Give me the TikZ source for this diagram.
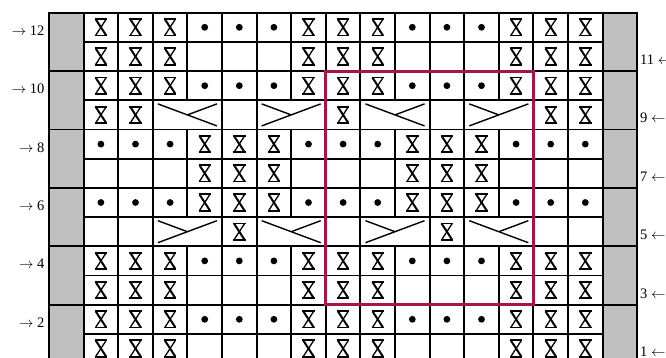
\documentclass[tikz,border=0pt]{standalone}
\usepackage{fontspec}
\setmainfont{Liberation Serif}
\definecolor{chartred}{RGB}{168,20,72}
\definecolor{chartgray}{RGB}{192,192,192}
\newcommand\symX[2]{\begin{scope}[shift={({49+34.6*#1+17.3},{12.7+29.2*#2+14.6})}]
  \draw[line width=1.7pt] (-6.2,-8.2)--(6.2,-8.2);
  \draw[line width=1.7pt] (-6.2,8.2)--(6.2,8.2);
  \draw[line width=2pt] (-5.2,-8)--(5.2,8);
  \draw[line width=1.3pt] (5.2,-8)--(-5.2,8);
\end{scope}}
\newcommand\symD[2]{\fill ({49+34.6*#1+17.3},{12.7+29.2*#2+14.6}) circle (3.4);}
\newcommand\symE[2]{}
\newcommand\symN[2]{}
\newcommand\symL[2]{\begin{scope}[shift={({49+34.6*#1+34.6},{12.7+29.2*#2+14.6})}]
  \draw[cable] (-29.5,-11)--(29.5,11);
  \draw[cable] (29.5,-11)--(0,0);
\end{scope}}
\newcommand\symR[2]{\begin{scope}[shift={({49+34.6*#1+34.6},{12.7+29.2*#2+14.6})}]
  \draw[cable] (-29.5,11)--(29.5,-11);
  \draw[cable] (-29.5,-11)--(0,0);
\end{scope}}
\begin{document}
\begin{tikzpicture}[x=1pt,y=-1pt,
  gridline/.style={line width=1.9pt,line cap=rect},
  cable/.style={line width=1.4pt},
  rowlabel/.style={inner sep=0pt,font=\fontsize{14.5}{16}\selectfont}]
\path[use as bounding box,clip] (0,0) rectangle (666,358);
\fill[white] (0,0) rectangle (666,358);
% gray side columns
\foreach \p in {0,...,5}{
  \fill[chartgray] (49,{12.7+58.4*\p}) rectangle ({49+34.6},{12.7+58.4*(\p+1)});
  \fill[chartgray] ({49+16*34.6},{12.7+58.4*\p}) rectangle ({49+17*34.6},{12.7+58.4*(\p+1)});
}
% symbols
\foreach \i/\row in {
  0/{X,X,X,D,D,D,X,X,X,D,D,D,X,X,X},
  1/{X,X,X,E,E,E,X,X,X,E,E,E,X,X,X},
  2/{X,X,X,D,D,D,X,X,X,D,D,D,X,X,X},
  3/{X,X,L,N,E,R,N,X,L,N,E,R,N,X,X},
  4/{D,D,D,X,X,X,D,D,D,X,X,X,D,D,D},
  5/{E,E,E,X,X,X,E,E,E,X,X,X,E,E,E},
  6/{D,D,D,X,X,X,D,D,D,X,X,X,D,D,D},
  7/{E,E,R,N,X,L,N,E,R,N,X,L,N,E,E},
  8/{X,X,X,D,D,D,X,X,X,D,D,D,X,X,X},
  9/{X,X,X,E,E,E,X,X,X,E,E,E,X,X,X},
  10/{X,X,X,D,D,D,X,X,X,D,D,D,X,X,X},
  11/{X,X,X,E,E,E,X,X,X,E,E,E,X,X,X}}{
  \foreach \s [count=\c] in \row {\csname sym\s\endcsname{\c}{\i}}
}
% horizontal grid lines
\foreach \i in {0,2,...,12}
  \draw[gridline] (49,{12.7+29.2*\i}) -- ({49+17*34.6},{12.7+29.2*\i});
\foreach \i in {1,3,...,11}
  \draw[gridline] ({49+34.6},{12.7+29.2*\i}) -- ({49+16*34.6},{12.7+29.2*\i});
% vertical grid lines
\foreach \j in {0,1,2,3,5,6,8,9,11,12,14,15,16,17}
  \draw[gridline] ({49+34.6*\j},12.7) -- ({49+34.6*\j},{12.7+29.2*12});
\foreach \j in {4,7,10,13}{
  \draw[gridline] ({49+34.6*\j},12.7) -- ({49+34.6*\j},{12.7+29.2*3});
  \draw[gridline] ({49+34.6*\j},{12.7+29.2*4}) -- ({49+34.6*\j},{12.7+29.2*7});
  \draw[gridline] ({49+34.6*\j},{12.7+29.2*8}) -- ({49+34.6*\j},{12.7+29.2*12});
}
% red repeat frame
\draw[chartred,line width=3pt] ({49+34.6*8},{12.7+29.2*2}) rectangle ({49+34.6*14},{12.7+29.2*10});
% row labels
\foreach \n/\i in {12/0,10/2,8/4,6/6,4/8,2/10}
  \node[rowlabel,anchor=base east] (l\n) at (44.5,{12.7+29.2*\i+14.6+8}) {$\rightarrow$ \n};
\foreach \n/\i in {11/1,9/3,7/5,5/7,3/9,1/11}
  \node[rowlabel,anchor=base west] (r\n) at (640,{12.7+29.2*\i+14.6+8}) {\n\ $\leftarrow$};
\end{tikzpicture}
\end{document}
